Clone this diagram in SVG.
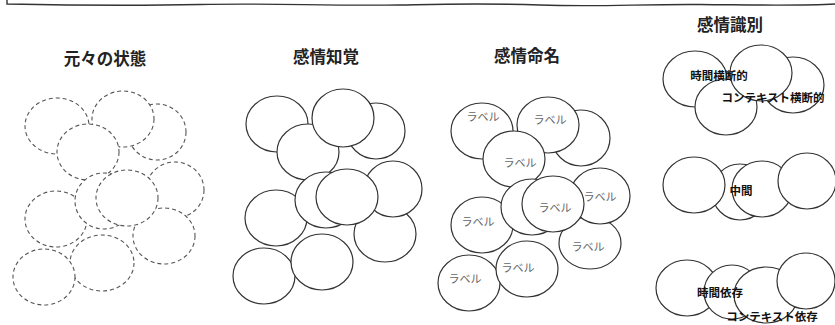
<svg xmlns="http://www.w3.org/2000/svg" width="835" height="325" viewBox="0 0 835 325">
<style>
.d ellipse{fill:#fff;stroke:#555;stroke-width:1.1;stroke-dasharray:4 3}
.s ellipse{fill:#fff;stroke:#333;stroke-width:1.2}
.t{font-family:"Noto Sans CJK JP","Noto Sans",sans-serif;font-weight:bold;font-size:16.5px;fill:#222;text-anchor:middle}
.l{font-family:"Noto Sans CJK JP","Noto Sans",sans-serif;font-size:11px;fill:#666;text-anchor:middle}
.b{font-family:"Noto Sans CJK JP","Noto Sans",sans-serif;font-weight:bold;font-size:11.5px;fill:#111;text-anchor:middle}
</style>
<rect width="835" height="325" fill="#fff"/>
<path d="M7,0 L7,4 C60,5 120,6 200,4.5 C280,3 320,6 400,5 C450,4 480,3 540,5 C600,7 640,4 700,4.5 C760,5 800,6 835,4" fill="none" stroke="#333" stroke-width="1.4"/>

<g id="panel1">
<text class="t" x="105" y="65">元々の状態</text>
<g class="d">
<ellipse cx="57" cy="126" rx="32" ry="28"/>
<ellipse cx="157" cy="132" rx="29" ry="28"/>
<ellipse cx="123" cy="119" rx="31" ry="28"/>
<ellipse cx="88" cy="152" rx="31" ry="28"/>
<ellipse cx="175" cy="190" rx="29" ry="28"/>
<ellipse cx="56" cy="219" rx="31" ry="28"/>
<ellipse cx="164" cy="236" rx="31" ry="28"/>
<ellipse cx="104" cy="201" rx="29" ry="28"/>
<ellipse cx="127" cy="198" rx="31" ry="28"/>
<ellipse cx="102" cy="263" rx="32" ry="28"/>
<ellipse cx="44" cy="277" rx="31" ry="28"/>
</g>
</g>

<g id="panel2">
<text class="t" x="326" y="63">感情知覚</text>
<g class="s">
<ellipse cx="277" cy="124" rx="31" ry="28"/>
<ellipse cx="376" cy="131" rx="29" ry="28"/>
<ellipse cx="308" cy="152" rx="31" ry="28"/>
<ellipse cx="343" cy="118" rx="31" ry="29"/>
<ellipse cx="276" cy="218" rx="31" ry="28"/>
<ellipse cx="385" cy="234" rx="31" ry="28"/>
<ellipse cx="393" cy="189" rx="29" ry="28"/>
<ellipse cx="326" cy="200" rx="31" ry="28"/>
<ellipse cx="347" cy="197" rx="31" ry="28"/>
<ellipse cx="264" cy="276" rx="31" ry="28"/>
<ellipse cx="322" cy="262" rx="31" ry="28"/>
</g>
</g>

<g id="panel3">
<text class="t" x="527" y="62">感情命名</text>
<g class="s">
<ellipse cx="482" cy="131" rx="31" ry="28"/>
<ellipse cx="581" cy="138" rx="29" ry="28"/>
<ellipse cx="548" cy="125" rx="31" ry="28"/>
<ellipse cx="514" cy="159" rx="31" ry="28"/>
<ellipse cx="482" cy="225" rx="31" ry="28"/>
<ellipse cx="590" cy="243" rx="31" ry="26"/>
<ellipse cx="600" cy="196" rx="30" ry="28"/>
<ellipse cx="532" cy="207" rx="31" ry="28"/>
<ellipse cx="553" cy="204" rx="31" ry="28"/>
<ellipse cx="469" cy="283" rx="31" ry="28"/>
<ellipse cx="527" cy="269" rx="31" ry="28"/>
</g>
<text class="l" x="483" y="121">ラベル</text>
<text class="l" x="550" y="124">ラベル</text>
<text class="l" x="520" y="167">ラベル</text>
<text class="l" x="555" y="212">ラベル</text>
<text class="l" x="600" y="201">ラベル</text>
<text class="l" x="478" y="226">ラベル</text>
<text class="l" x="588" y="251">ラベル</text>
<text class="l" x="518" y="272">ラベル</text>
<text class="l" x="465" y="283">ラベル</text>
</g>

<g id="panel4">
<text class="t" x="730" y="31">感情識別</text>
<g id="cross" class="s">
<ellipse cx="695" cy="79" rx="32" ry="28"/>
<ellipse cx="793" cy="85" rx="31" ry="28"/>
<ellipse cx="726" cy="107" rx="31" ry="28"/>
<ellipse cx="761" cy="73" rx="31" ry="28"/>
</g>
<text class="b" x="719" y="80">時間横断的</text>
<text class="b" x="773" y="102">コンテキスト横断的</text>
<g id="middle" class="s">
<ellipse cx="740" cy="192" rx="28" ry="28"/>
<ellipse cx="694" cy="185" rx="31" ry="28"/>
<ellipse cx="762" cy="189" rx="30" ry="28"/>
<ellipse cx="807" cy="181" rx="29" ry="28"/>
</g>
<text class="b" x="741" y="195">中間</text>
<g id="dep" class="s">
<ellipse cx="687" cy="288" rx="31" ry="28"/>
<ellipse cx="732" cy="292" rx="28" ry="27"/>
<ellipse cx="766" cy="295" rx="32" ry="28"/>
<ellipse cx="806" cy="281" rx="29" ry="28"/>
</g>
<text class="b" x="720" y="297">時間依存</text>
<text class="b" x="772" y="321">コンテキスト依存</text>
</g>
</svg>
